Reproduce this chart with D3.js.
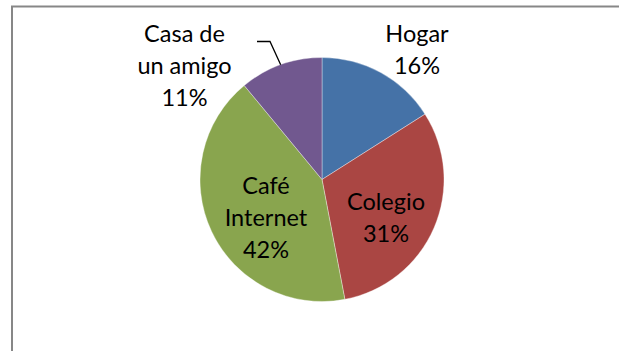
<!DOCTYPE html>
<html>
<head>
<meta charset="utf-8">
<script src="https://cdn.jsdelivr.net/npm/d3@7"></script>
<style>
  html, body { margin: 0; padding: 0; background: #fff; }
  svg { display: block; }
</style>
</head>
<body>
<svg id="chart" width="619" height="351"></svg>
<script>
// Where students connect to the internet (share of responses)
const categories = ["Hogar", "Colegio", "Café Internet", "Casa de un amigo"];
const values = [16, 31, 42, 11];
const colors = ["#4572A7", "#AA4643", "#89A54E", "#71588F"];
// Label lines as drawn for each slice
const labelLines = [["Hogar"], ["Colegio"], ["Café", "Internet"], ["Casa de", "un amigo"]];

const W = 619, H = 351;
const cx = 322, cy = 179.5, R = 122;
const lineH = 32;

const svg = d3.select("#chart");

// Chart area frame (left and top edges visible, continues off-canvas)
svg.append("rect")
  .attr("x", 12).attr("y", 6.5)
  .attr("width", W + 20).attr("height", H)
  .attr("fill", "#fff")
  .attr("stroke", "#878787")
  .attr("stroke-width", 2);

const pie = d3.pie().sort(null).value(d => d.value);
const data = categories.map((c, i) => ({ name: c, value: values[i], color: colors[i], lines: labelLines[i] }));
const arcs = pie(data);
const total = d3.sum(values);

const arc = d3.arc().innerRadius(0).outerRadius(R);

const g = svg.append("g").attr("transform", `translate(${cx},${cy})`);

g.selectAll("path.slice")
  .data(arcs)
  .enter().append("path")
  .attr("class", "slice")
  .attr("d", arc)
  .attr("fill", d => d.data.color)
  .attr("stroke", "#ffffff")
  .attr("stroke-opacity", 0.6)
  .attr("stroke-width", 0.6);

// Label anchor positions: inside for large slices, outside for small ones
const labelPos = {
  "Hogar": { x: 417, y: 42 },
  "Colegio": { x: 386, y: 209.5 },
  "Café Internet": { x: 266, y: 194 },
  "Casa de un amigo": { x: 184.5, y: 42 }
};

const fmt = d => Math.round(d.data.value / total * 100) + "%";

arcs.forEach(a => {
  const p = labelPos[a.data.name];
  const lines = a.data.lines.concat([fmt(a)]);
  const t = svg.append("text")
    .attr("x", p.x).attr("y", p.y)
    .attr("text-anchor", "middle")
    .attr("font-family", "Lato, 'Open Sans', sans-serif")
    .attr("font-size", 23.5)
    .attr("fill", "#000");
  lines.forEach((ln, i) => {
    t.append("tspan").attr("x", p.x).attr("y", p.y + i * lineH).text(ln);
  });
});

// Leader line for the small purple slice
const casa = arcs[3];
const mid = (casa.startAngle + casa.endAngle) / 2;
const edge = [cx + R * Math.sin(mid), cy - R * Math.cos(mid)];
svg.append("path")
  .attr("d", d3.line()([[257, 41.5], [270, 41.5], edge]))
  .attr("fill", "none")
  .attr("stroke", "#000")
  .attr("stroke-width", 1.3);
</script>
</body>
</html>
